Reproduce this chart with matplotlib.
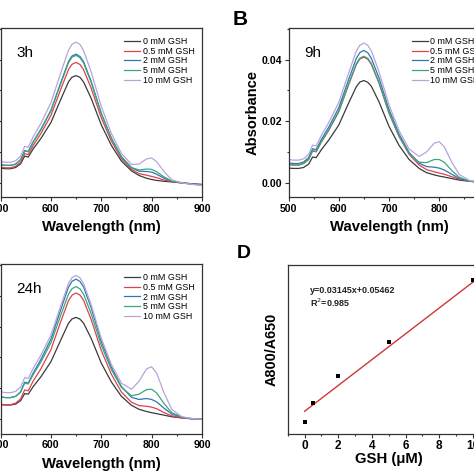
"""UV-vis spectra of the probe with GSH at 3 h / 9 h / 24 h and the A800/A650 calibration."""

import matplotlib
matplotlib.use("Agg")
import numpy as np
import matplotlib.pyplot as plt
from matplotlib.ticker import MultipleLocator

plt.rcParams["font.family"] = ["Liberation Sans", "DejaVu Sans"]

FIG_PX = 474

# ---- spectra (absorbance) ----
WAVELENGTH = [500, 510, 520, 530, 540, 548, 555, 565, 580, 600, 620, 635, 642, 650, 658, 665,
              680, 700, 720, 740, 760, 775, 790, 800, 810, 825, 840, 860, 880, 900]

H3_0MM = [.0047, .0045, .0045, .0049, .0061, .0086, .0083, .0110, .0143, .0195, .0272, .0328, .0343, .0348, .0342, .0327,
          .0274, .0188, .0121, .0070, .0038, .0023, .0014, .0010, .0007, .0004, .0002, -.0001, -.0004, -.0006]
H3_05MM = [.0050, .0048, .0048, .0053, .0066, .0094, .0091, .0121, .0159, .0218, .0305, .0368, .0385, .0391, .0384, .0367,
           .0307, .0211, .0135, .0078, .0043, .0029, .0024, .0020, .0016, .0008, .0003, -.0001, -.0004, -.0007]
H3_2MM = [.0058, .0056, .0056, .0060, .0075, .0104, .0101, .0133, .0173, .0235, .0327, .0394, .0412, .0418, .0410, .0393,
          .0329, .0226, .0145, .0084, .0048, .0037, .0036, .0034, .0027, .0014, .0004, -.0001, -.0005, -.0008]
H3_5MM = [.0058, .0056, .0056, .0060, .0074, .0103, .0100, .0132, .0171, .0233, .0324, .0390, .0408, .0414, .0406, .0389,
          .0326, .0224, .0144, .0084, .0049, .0041, .0044, .0043, .0035, .0018, .0005, -.0001, -.0005, -.0008]
H3_10MM = [.0069, .0066, .0066, .0071, .0086, .0118, .0115, .0149, .0192, .0259, .0359, .0431, .0450, .0457, .0449, .0429,
           .0360, .0248, .0160, .0095, .0059, .0060, .0077, .0080, .0068, .0035, .0009, -.0001, -.0006, -.0009]

H9_0MM = [.0047, .0046, .0046, .0049, .0060, .0083, .0081, .0106, .0138, .0187, .0260, .0312, .0327, .0332, .0326, .0313,
          .0263, .0183, .0121, .0075, .0046, .0032, .0025, .0021, .0018, .0013, .0008, .0004, .0001, 0]
H9_05MM = [.0059, .0057, .0057, .0062, .0075, .0103, .0100, .0131, .0170, .0230, .0320, .0384, .0402, .0408, .0401, .0384,
           .0324, .0226, .0150, .0092, .0057, .0042, .0035, .0031, .0027, .0019, .0011, .0005, .0001, 0]
H9_2MM = [.0064, .0062, .0062, .0067, .0081, .0110, .0107, .0139, .0180, .0243, .0337, .0404, .0423, .0430, .0422, .0404,
          .0341, .0238, .0158, .0098, .0063, .0052, .0050, .0047, .0041, .0027, .0013, .0005, .0001, 0]
H9_5MM = [.0059, .0057, .0057, .0062, .0075, .0104, .0101, .0132, .0171, .0232, .0322, .0387, .0405, .0411, .0404, .0387,
          .0326, .0227, .0151, .0094, .0066, .0065, .0075, .0075, .0066, .0039, .0017, .0005, .0001, 0]
H9_10MM = [.0075, .0073, .0073, .0077, .0092, .0122, .0119, .0152, .0195, .0260, .0358, .0428, .0447, .0454, .0446, .0428,
           .0361, .0253, .0169, .0109, .0085, .0100, .0128, .0133, .0116, .0066, .0026, .0007, .0002, 0]

H24_0MM = [.0047, .0046, .0046, .0049, .0060, .0083, .0081, .0106, .0137, .0186, .0258, .0311, .0325, .0330, .0324, .0311,
           .0262, .0182, .0121, .0074, .0045, .0032, .0025, .0021, .0018, .0013, .0008, .0004, .0002, .0001]
H24_05MM = [.0048, .0047, .0047, .0052, .0066, .0095, .0092, .0124, .0163, .0225, .0318, .0384, .0402, .0409, .0402, .0385,
            .0323, .0223, .0146, .0088, .0055, .0044, .0042, .0039, .0034, .0021, .0011, .0004, .0001, 0]
H24_2MM = [.0072, .0070, .0070, .0074, .0089, .0120, .0117, .0150, .0193, .0259, .0357, .0428, .0447, .0454, .0446, .0428,
           .0361, .0252, .0169, .0106, .0071, .0064, .0067, .0064, .0056, .0035, .0017, .0006, .0001, 0]
H24_5MM = [.0072, .0070, .0070, .0074, .0088, .0117, .0114, .0145, .0185, .0247, .0339, .0405, .0423, .0430, .0422, .0405,
           .0342, .0240, .0161, .0103, .0076, .0081, .0096, .0097, .0085, .0050, .0021, .0007, .0001, 0]
H24_10MM = [.0089, .0086, .0086, .0090, .0104, .0135, .0132, .0165, .0207, .0272, .0370, .0440, .0459, .0466, .0458, .0439,
            .0371, .0262, .0178, .0117, .0097, .0123, .0163, .0170, .0149, .0084, .0032, .0008, .0002, 0]

CONC_LABELS = ["0 mM GSH", "0.5 mM GSH", "2 mM GSH", "5 mM GSH", "10 mM GSH"]
COLORS = ["#3a3a3a", "#e0414b", "#2f77b0", "#3aa67e", "#b9a3db"]

# ---- calibration (panel D) ----
GSH_UM = [0, 0.5, 2, 5, 10]
RATIO = [0.0293, 0.0742, 0.1396, 0.2229, 0.3733]
FIT_X = [0, 10]
SLOPE, INTERCEPT, R2 = 0.03145, 0.05462, 0.985


def px_axes(fig, left, top, width, height):
    """Axes placed in pixel units (origin top-left)."""
    return fig.add_axes([left / FIG_PX, 1 - (top + height) / FIG_PX,
                         width / FIG_PX, height / FIG_PX])


def frame(ax):
    for s in ax.spines.values():
        s.set_color("#333333")
        s.set_linewidth(0.9)
    ax.tick_params(which="both", direction="out", top=False, right=False,
                   color="#333333", width=0.8)
    ax.tick_params(which="major", length=2.6, pad=2.2)
    ax.tick_params(which="minor", length=1.6)


def spectra_panel(ax, curves, tag, show_ylabels=True):
    for y, c, lab in zip(curves, COLORS, CONC_LABELS):
        ax.plot(WAVELENGTH, y, color=c, lw=0.9, label=lab)
    ax.set_xlim(500, 900)
    ax.set_ylim(-0.0047, 0.0502)
    ax.xaxis.set_major_locator(MultipleLocator(100))
    ax.xaxis.set_minor_locator(MultipleLocator(50))
    ax.yaxis.set_major_locator(MultipleLocator(0.02))
    ax.yaxis.set_minor_locator(MultipleLocator(0.01))
    ax.yaxis.set_major_formatter(lambda v, p: f"{v:.2f}")
    frame(ax)
    # left column: the y tick labels sit outside the cropped picture
    ax.tick_params(axis="y", labelleft=show_ylabels)
    for lab in ax.get_xticklabels() + ax.get_yticklabels():
        lab.set_fontsize(7.6)
        lab.set_fontweight("bold")
    ax.set_xlabel("Wavelength (nm)", fontsize=10.7, fontweight="bold", labelpad=4.5)
    ax.text(0.08, 0.855, tag, transform=ax.transAxes, fontsize=11, va="center", ha="left")
    ax.legend(loc="upper left", bbox_to_anchor=(0.615, 0.948), frameon=False,
              fontsize=6.4, handlelength=1.8, handletextpad=0.25, labelspacing=0.08,
              borderpad=0, borderaxespad=0)


def main():
    fig = plt.figure(figsize=(FIG_PX / 100, FIG_PX / 100), dpi=100)

    ax_a = px_axes(fig, 0.5, 28.3, 201.5, 168.7)
    spectra_panel(ax_a, [H3_0MM, H3_05MM, H3_2MM, H3_5MM, H3_10MM], "3h", show_ylabels=False)

    ax_b = px_axes(fig, 288.5, 28.3, 201, 168.7)
    spectra_panel(ax_b, [H9_0MM, H9_05MM, H9_2MM, H9_5MM, H9_10MM], "9h")
    ax_b.set_ylabel("Absorbance", fontsize=10.5, fontweight="bold", labelpad=1)

    ax_c = px_axes(fig, 0.5, 264.3, 201.5, 169.4)
    spectra_panel(ax_c, [H24_0MM, H24_05MM, H24_2MM, H24_5MM, H24_10MM], "24h", show_ylabels=False)

    ax_d = px_axes(fig, 287.8, 265.3, 202, 168.4)
    ax_d.scatter(GSH_UM, RATIO, marker="s", s=9, color="black", zorder=3, linewidths=0)
    fx = np.array(FIT_X, dtype=float)
    ax_d.plot(fx, SLOPE * fx + INTERCEPT, color="#cc3838", lw=1.0, zorder=2)
    ax_d.set_xlim(-1, 11)
    ax_d.set_ylim(0, 0.41)
    ax_d.xaxis.set_major_locator(MultipleLocator(2))
    ax_d.xaxis.set_minor_locator(MultipleLocator(1))
    ax_d.set_yticks([])
    frame(ax_d)
    for lab in ax_d.get_xticklabels():
        lab.set_fontsize(8.5)
        lab.set_fontweight("bold")
    ax_d.set_xlabel("GSH (μM)", fontsize=10.7, fontweight="bold", labelpad=0)
    ax_d.set_ylabel("A800/A650", fontsize=10.4, fontweight="bold", labelpad=6.5)
    ax_d.text(0.108, 0.852, f"y={SLOPE}x+{INTERCEPT}", transform=ax_d.transAxes,
              fontsize=6.5, fontweight="bold", va="center", ha="left", color="#222222")
    ax_d.text(0.108, 0.776, f"R$^2$={R2}", transform=ax_d.transAxes,
              fontsize=6.5, fontweight="bold", va="center", ha="left", color="#222222")

    fig.text(240.5 / FIG_PX, 1 - 19.5 / FIG_PX, "B", fontsize=15, fontweight="bold",
             ha="center", va="center")
    fig.text(243.5 / FIG_PX, 1 - 254 / FIG_PX, "D", fontsize=14, fontweight="bold",
             ha="center", va="center")

    fig.savefig("out.png", dpi=100)


if __name__ == "__main__":
    main()
